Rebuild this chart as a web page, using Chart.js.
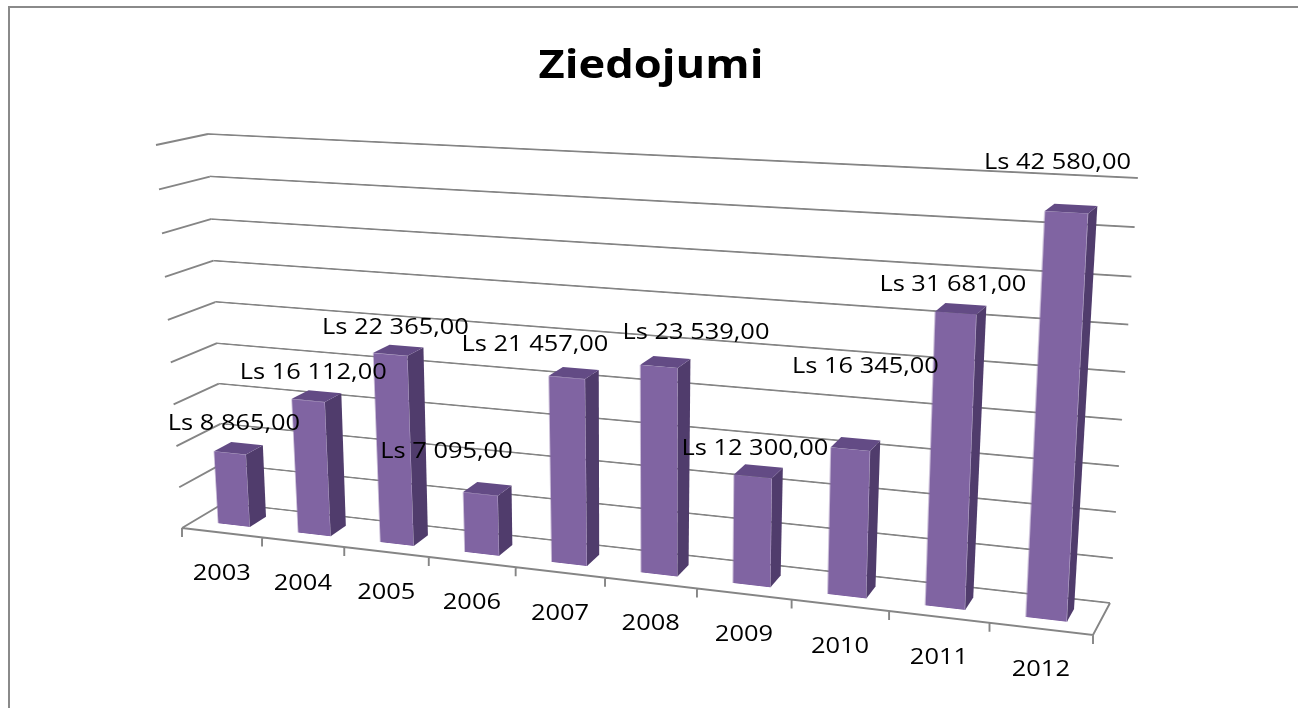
<!DOCTYPE html>
<html>
<head>
<meta charset="utf-8">
<script src="https://cdn.jsdelivr.net/npm/chart.js@4.4.1/dist/chart.umd.min.js"></script>
<style>
  body { margin: 0; background: #fff; width: 1298px; height: 708px; overflow: hidden; position: relative; }
  #frame { position: absolute; left: 8px; top: 6px; width: 1400px; height: 800px; border-left: 2px solid #8a8a8a; border-top: 2px solid #8a8a8a; }
  canvas { position: absolute; left: 0; top: 0; transform-origin: 0 0; }
</style>
</head>
<body>
<div id="frame"></div>
<canvas id="walls" width="1298" height="708"></canvas>
<canvas id="wallChart" width="1000" height="560"></canvas>
<canvas id="barChart" width="1000" height="560"></canvas>
<canvas id="labels" width="1298" height="708"></canvas>
<script>
// dati
const years = ['2003', '2004', '2005', '2006', '2007', '2008', '2009', '2010', '2011', '2012'];
const donations = [8865, 16112, 22365, 7095, 21457, 23539, 12300, 16345, 31681, 42580];
const yMax = 45000;
const yStep = 5000;
const title = 'Ziedojumi';

// 3D kaste uz ekrāna (aizmugurējā siena d=0, priekšējā mala d=1)
const box = {
    back:  { tl: [208, 134], tr: [1138, 178], bl: [224, 503], br: [1110, 603] },
    front: { tl: [156, 145], tr: [1116, 196], bl: [182, 528], br: [1093, 635] }
};
const barFrontDepth = 0.7;
const barBackDepth = 0.3;

// etiķešu nobīdes no stabiņa augšas
const labelOffsets = [[4, -29], [5, -28], [5, -27], [-34, -42], [-32, -33], [37, -34], [2, -28], [15, -82], [-3, -28], [-9, -50]];

const gridColor = '#858585';
const frontColor = '#8064A2';
const sideColor = '#503C6C';
const topColor = '#634B85';
const textFont = '"Open Sans", "DejaVu Sans", sans-serif';
const stretch = 1.13;

function formatLs(n) {
    return 'Ls ' + String(n).replace(/\B(?=(\d{3})+(?!\d))/g, ' ') + ',00';
}

function solve(A, b) {
    const n = b.length;
    const M = A.map((row, i) => row.concat(b[i]));
    for (let c = 0; c < n; c++) {
        let p = c;
        for (let r = c + 1; r < n; r++) if (Math.abs(M[r][c]) > Math.abs(M[p][c])) p = r;
        [M[c], M[p]] = [M[p], M[c]];
        for (let r = 0; r < n; r++) {
            if (r === c) continue;
            const f = M[r][c] / M[c][c];
            for (let k = c; k <= n; k++) M[r][k] -= f * M[c][k];
        }
    }
    return M.map((row, i) => row[n] / row[i]);
}

function homography(src, dst) {
    const A = [], b = [];
    for (let i = 0; i < 4; i++) {
        const [x, y] = src[i], [X, Y] = dst[i];
        A.push([x, y, 1, 0, 0, 0, -x * X, -y * X]); b.push(X);
        A.push([0, 0, 0, x, y, 1, -x * Y, -y * Y]); b.push(Y);
    }
    const h = solve(A, b);
    h.push(1);
    return h;
}

function apply(h, x, y) {
    const w = h[6] * x + h[7] * y + h[8];
    return [(h[0] * x + h[1] * y + h[2]) / w, (h[3] * x + h[4] * y + h[5]) / w];
}

function lerp(a, b, t) { return [a[0] + (b[0] - a[0]) * t, a[1] + (b[1] - a[1]) * t]; }

// tl, tr, bl, br kvadrāts dziļumā d
function quadAt(d) {
    return ['tl', 'tr', 'bl', 'br'].map(k => lerp(box.back[k], box.front[k], d));
}

function planeCorners(chart) {
    const a = chart.chartArea;
    const y = chart.scales.y;
    const top = y.getPixelForValue(yMax), bottom = y.getPixelForValue(0);
    return [[a.left, top], [a.right, top], [a.left, bottom], [a.right, bottom]];
}

function toCss(h) {
    return 'matrix3d(' + [h[0], h[3], 0, h[6], h[1], h[4], 0, h[7], 0, 0, 1, 0, h[2], h[5], 0, h[8]].join(',') + ')';
}

// u = kategoriju koordināte 0..10, v = vērtība, d = dziļums
const unitSrc = [[0, 1], [1, 1], [0, 0], [1, 0]];
function proj(u, v, d) {
    const h = homography(unitSrc, quadAt(d));
    return apply(h, u / years.length, v / yMax);
}

const baseOptions = {
    responsive: false,
    animation: false,
    devicePixelRatio: 1,
    layout: { padding: 40 },
    plugins: { legend: { display: false }, tooltip: { enabled: false }, title: { display: false } }
};

// aizmugurējā siena ar režģa līnijām
const wallChart = new Chart(document.getElementById('wallChart'), {
    type: 'bar',
    data: { labels: years, datasets: [] },
    options: {
        ...baseOptions,
        scales: {
            x: { display: false },
            y: {
                min: 0, max: yMax,
                ticks: { stepSize: yStep, display: false },
                grid: { color: gridColor, lineWidth: 1.9, drawTicks: false },
                border: { display: false }
            }
        }
    }
});

// stabiņi
const barChart = new Chart(document.getElementById('barChart'), {
    type: 'bar',
    data: {
        labels: years,
        datasets: [{
            label: title,
            data: donations,
            backgroundColor: frontColor,
            borderWidth: 0,
            barPercentage: 0.4,
            categoryPercentage: 1
        }]
    },
    options: {
        ...baseOptions,
        scales: {
            x: { display: false },
            y: { display: false, min: 0, max: yMax }
        }
    }
});

const wallH = homography(planeCorners(wallChart), quadAt(0));
wallChart.canvas.style.transform = toCss(wallH);
const frontH = homography(planeCorners(barChart), quadAt(barFrontDepth));
const backH = homography(planeCorners(barChart), quadAt(barBackDepth));
barChart.canvas.style.transform = toCss(frontH);

// sānu siena un grīda
const wctx = document.getElementById('walls').getContext('2d');
wctx.strokeStyle = gridColor;
wctx.lineWidth = 1.9;
wctx.beginPath();
for (let v = 0; v <= yMax; v += yStep) {
    const a = proj(0, v, 0), b = proj(0, v, 1);
    wctx.moveTo(a[0], a[1]);
    wctx.lineTo(b[0], b[1]);
}
const fl = proj(0, 0, 1), fr = proj(years.length, 0, 1), br = proj(years.length, 0, 0);
wctx.moveTo(fl[0], fl[1]);
wctx.lineTo(fr[0], fr[1]);
wctx.lineTo(br[0], br[1]);
for (let i = 0; i <= years.length; i++) {
    const p = proj(i, 0, 1);
    wctx.moveTo(p[0], p[1]);
    wctx.lineTo(p[0], p[1] + 9);
}
wctx.stroke();

// stabiņu sāni, augšas un teksti
const ctx = document.getElementById('labels').getContext('2d');

function poly(pts, color) {
    ctx.beginPath();
    ctx.moveTo(pts[0][0], pts[0][1]);
    pts.slice(1).forEach(p => ctx.lineTo(p[0], p[1]));
    ctx.closePath();
    ctx.fillStyle = color;
    ctx.fill();
}

function text(str, x, y, font) {
    ctx.save();
    ctx.translate(x, y);
    ctx.scale(stretch, 1);
    ctx.font = font;
    ctx.fillStyle = '#000';
    ctx.textAlign = 'center';
    ctx.fillText(str, 0, 0);
    ctx.restore();
}

const bars = barChart.getDatasetMeta(0).data;
bars.forEach((bar, i) => {
    const l = bar.x - bar.width / 2, r = bar.x + bar.width / 2;
    const fTL = apply(frontH, l, bar.y), fTR = apply(frontH, r, bar.y), fBR = apply(frontH, r, bar.base);
    const bTL = apply(backH, l, bar.y), bTR = apply(backH, r, bar.y), bBR = apply(backH, r, bar.base);
    poly([fTR, bTR, bBR, fBR], sideColor);
    poly([fTL, fTR, bTR, bTL], topColor);
});

ctx.textBaseline = 'middle';
bars.forEach((bar, i) => {
    const p = apply(frontH, bar.x, bar.y);
    text(formatLs(donations[i]), p[0] + labelOffsets[i][0], p[1] + labelOffsets[i][1], '22.5px ' + textFont);
});

years.forEach((yr, i) => {
    const p = proj(i + 0.5, 0, 1);
    text(yr, p[0], p[1] + 41, '22.5px ' + textFont);
});

ctx.textBaseline = 'alphabetic';
text(title, 651, 78, 'bold 40px ' + textFont);
</script>
</body>
</html>
